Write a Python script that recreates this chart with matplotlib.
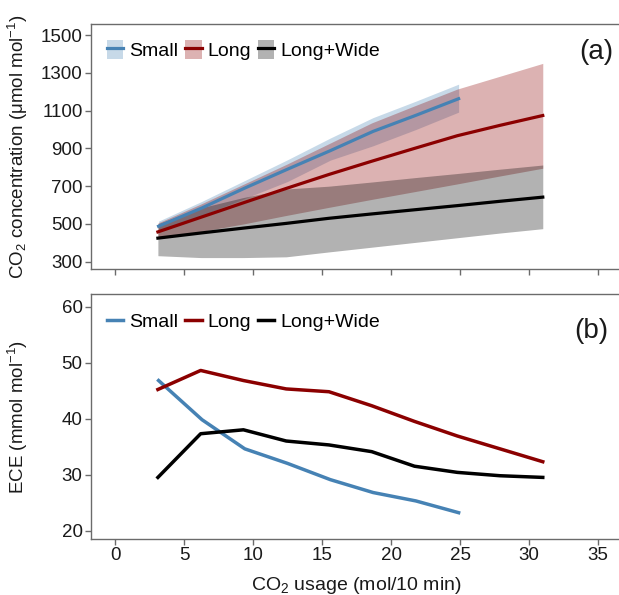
import numpy as np
import matplotlib
matplotlib.use('Agg')
import matplotlib.pyplot as plt
from matplotlib.patches import Patch
from matplotlib.lines import Line2D

plt.rcParams['font.family'] = ['Liberation Sans', 'DejaVu Sans']
plt.rcParams['mathtext.fontset'] = 'custom'
plt.rcParams['mathtext.rm'] = 'Liberation Sans'
plt.rcParams['mathtext.it'] = 'Liberation Sans:italic'

# CO2 usage (mol/10 min)
x_long = [3.1, 6.2, 9.3, 12.4, 15.5, 18.6, 21.7, 24.8, 27.9, 31.0]
x_small = [3.15, 6.3, 9.4, 12.5, 15.6, 18.7, 21.8, 24.9]

# panel (a): CO2 concentration, mean and band
small_mean = [488, 585, 690, 790, 888, 990, 1075, 1163]
small_hi = [515, 620, 730, 840, 955, 1063, 1150, 1240]
small_lo = [462, 545, 635, 725, 838, 914, 1000, 1092]

long_mean = [458, 535, 612, 688, 762, 832, 900, 967, 1022, 1074]
long_hi = [505, 605, 710, 815, 925, 1035, 1125, 1214, 1282, 1350]
long_lo = [422, 460, 500, 545, 588, 630, 671, 712, 754, 795]

wide_mean = [425, 452, 478, 503, 530, 553, 575, 597, 620, 642]
wide_hi = [500, 585, 640, 685, 700, 722, 745, 767, 790, 812]
wide_lo = [332, 322, 322, 326, 352, 377, 402, 427, 452, 475]

# panel (b): ECE (mmol/mol)
ece_small = [46.8, 39.8, 34.6, 32.0, 29.1, 26.8, 25.3, 23.2]
ece_long = [45.2, 48.6, 46.8, 45.3, 44.8, 42.3, 39.5, 36.9, 34.6, 32.3]
ece_wide = [29.5, 37.3, 38.0, 36.0, 35.3, 34.1, 31.5, 30.4, 29.8, 29.5]

c_small = '#4682B4'
c_long = '#8B0000'
c_wide = '#000000'
spine_c = '#6b6b6b'
txt_c = '#1a1a1a'

fig = plt.figure(figsize=(6.19, 5.95), dpi=100)
ax1 = fig.add_axes([0.147, 0.5474, 0.858, 0.4118])
ax2 = fig.add_axes([0.147, 0.0941, 0.858, 0.4113])

ax1.fill_between(x_small, small_lo, small_hi, color=c_small, alpha=0.3, lw=0)
ax1.fill_between(x_long, long_lo, long_hi, color=c_long, alpha=0.3, lw=0)
ax1.fill_between(x_long, wide_lo, wide_hi, color=c_wide, alpha=0.3, lw=0)
ax1.plot(x_small, small_mean, color=c_small, lw=2.3)
ax1.plot(x_long, long_mean, color=c_long, lw=2.3)
ax1.plot(x_long, wide_mean, color=c_wide, lw=2.3)

ax2.plot(x_small, ece_small, color=c_small, lw=2.5)
ax2.plot(x_long, ece_long, color=c_long, lw=2.5)
ax2.plot(x_long, ece_wide, color=c_wide, lw=2.5)

for ax in (ax1, ax2):
    ax.set_xlim(-1.75, 36.75)
    ax.set_xticks(range(0, 40, 5))
    for s in ax.spines.values():
        s.set_color(spine_c)
        s.set_linewidth(1.0)
    ax.tick_params(direction='out', length=4, width=1, color=spine_c,
                   labelsize=13.5, labelcolor=txt_c, pad=2)

ax1.set_ylim(260, 1557)
ax1.set_yticks(range(300, 1600, 200))
ax1.tick_params(axis='x', labelbottom=False)
ax2.set_ylim(18.5, 62.2)
ax2.set_yticks(range(20, 70, 10))

ax1.set_ylabel('CO$_2$ concentration (μmol mol$^{-1}$)', fontsize=13.5, color=txt_c)
ax2.set_ylabel('ECE (mmol mol$^{-1}$)', fontsize=13.5, color=txt_c)
ax2.set_xlabel('CO$_2$ usage (mol/10 min)', fontsize=14, color=txt_c, labelpad=8)
ax1.yaxis.set_label_coords(-0.115, 0.5)
ax2.yaxis.set_label_coords(-0.115, 0.5)

h1 = [(Patch(color=c, alpha=0.3, lw=0), Line2D([], [], color=c, lw=2.3))
      for c in (c_small, c_long, c_wide)]
ax1.legend(h1, ['Small', 'Long', 'Long+Wide'], ncol=3, frameon=False,
           loc='center left', bbox_to_anchor=(0.03, 0.895), borderaxespad=0,
           borderpad=0, handlelength=0.85, handleheight=1.1, handletextpad=0.3,
           columnspacing=0.35, fontsize=14)
h2 = [Line2D([], [], color=c, lw=2.5) for c in (c_small, c_long, c_wide)]
ax2.legend(h2, ['Small', 'Long', 'Long+Wide'], ncol=3, frameon=False,
           loc='center left', bbox_to_anchor=(0.03, 0.885), borderaxespad=0,
           borderpad=0, handlelength=0.85, handletextpad=0.3,
           columnspacing=0.35, fontsize=14)

ax1.text(0.952, 0.888, '(a)', transform=ax1.transAxes, fontsize=20,
         ha='center', va='center', color=txt_c)
ax2.text(0.942, 0.85, '(b)', transform=ax2.transAxes, fontsize=20,
         ha='center', va='center', color=txt_c)

fig.savefig('out.png', dpi=100)
